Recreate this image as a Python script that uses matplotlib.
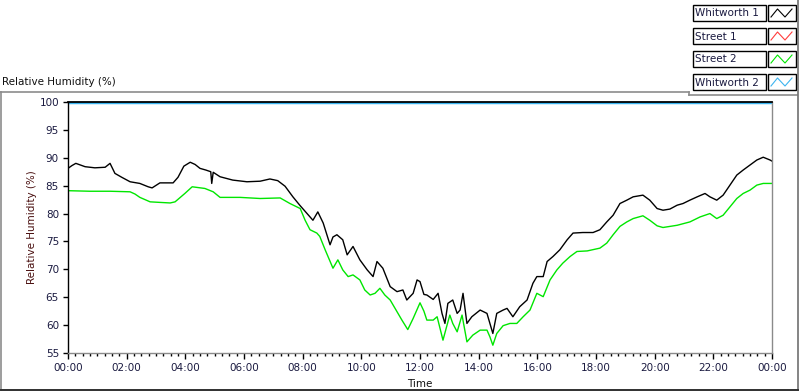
import matplotlib
matplotlib.use("Agg")
import matplotlib.pyplot as plt
from matplotlib.lines import Line2D
from matplotlib.patches import Rectangle
import numpy as np

# ---------------- data (minutes of day, % RH) ----------------
w1_minutes = [0, 8, 16, 35, 55, 76, 86, 96, 110, 127, 147, 164, 172, 188, 215, 225, 237,
              250, 260, 270, 282, 292, 294, 297, 311, 337, 366, 393, 413, 429, 444, 460,
              474, 489, 501, 511, 522, 536, 542, 550, 562, 571, 583, 597, 612, 624, 632,
              644, 659, 673, 685, 693, 706, 714, 720, 728, 734, 747, 757, 765, 771, 777,
              787, 796, 802, 808, 816, 826, 843, 857, 863, 869, 877, 890, 898, 910, 924,
              939, 951, 959, 972, 980, 992, 1006, 1021, 1033, 1053, 1074, 1088, 1102, 1115,
              1129, 1143, 1156, 1176, 1190, 1205, 1217, 1231, 1246, 1258, 1272, 1287, 1303,
              1313, 1327, 1340, 1354, 1368, 1381, 1395, 1409, 1422, 1436, 1440]
w1_values = [88.1, 88.6, 89.0, 88.4, 88.2, 88.3, 89.0, 87.2, 86.5, 85.7, 85.4, 84.8, 84.6,
             85.5, 85.5, 86.5, 88.5, 89.2, 88.8, 88.1, 87.8, 87.5, 85.4, 87.4, 86.6, 86.0,
             85.7, 85.8, 86.2, 85.9, 84.9, 83.0, 81.5, 80.0, 78.8, 80.3, 78.3, 74.4, 75.8,
             76.2, 75.3, 72.6, 74.1, 71.7, 69.9, 68.7, 71.4, 70.2, 66.9, 66.0, 66.3, 64.5,
             65.7, 68.1, 67.8, 65.5, 65.4, 64.6, 65.7, 62.1, 60.3, 63.9, 64.5, 62.1, 62.7,
             65.7, 60.3, 61.5, 62.7, 62.1, 60.3, 58.5, 62.1, 62.7, 63.0, 61.5, 63.3, 64.5,
             67.5, 68.7, 68.7, 71.4, 72.3, 73.5, 75.3, 76.5, 76.6, 76.6, 77.1, 78.5, 79.7,
             81.8, 82.4, 83.0, 83.3, 82.4, 80.9, 80.6, 80.8, 81.5, 81.8, 82.4, 83.0, 83.6,
             83.0, 82.4, 83.3, 85.1, 86.9, 87.8, 88.7, 89.6, 90.1, 89.6, 89.4]

s2_minutes = [0, 45, 86, 127, 137, 147, 168, 188, 209, 219, 239, 254, 280, 297, 311, 352,
              393, 434, 454, 475, 485, 495, 509, 515, 526, 542, 552, 562, 573, 583, 597,
              607, 618, 628, 638, 648, 659, 673, 683, 695, 706, 720, 728, 734, 747, 755,
              767, 775, 781, 787, 796, 806, 816, 828, 843, 857, 863, 869, 877, 890, 904,
              918, 931, 945, 959, 972, 986, 1000, 1012, 1027, 1041, 1062, 1088, 1102, 1115,
              1129, 1143, 1156, 1176, 1190, 1205, 1217, 1246, 1272, 1293, 1313, 1327, 1340,
              1354, 1368, 1381, 1395, 1409, 1422, 1440]
s2_values = [84.1, 84.0, 84.0, 83.9, 83.5, 82.9, 82.1, 82.0, 81.9, 82.1, 83.6, 84.8, 84.5,
             83.9, 82.9, 82.9, 82.7, 82.8, 81.8, 80.9, 78.8, 77.1, 76.5, 75.9, 73.5, 70.2,
             71.7, 69.9, 68.7, 69.0, 68.1, 66.3, 65.4, 65.7, 66.6, 65.4, 64.5, 62.4, 60.9,
             59.2, 61.2, 64.0, 62.5, 60.9, 60.9, 61.5, 57.3, 59.9, 61.8, 60.3, 58.8, 61.8,
             57.0, 58.2, 59.1, 59.1, 57.9, 56.4, 58.5, 59.9, 60.3, 60.3, 61.5, 62.7, 65.7,
             65.1, 68.1, 69.9, 71.1, 72.3, 73.2, 73.3, 73.8, 74.7, 76.2, 77.7, 78.5, 79.1,
             79.6, 78.8, 77.8, 77.5, 77.9, 78.5, 79.4, 80.0, 79.1, 79.7, 81.2, 82.7, 83.6,
             84.2, 85.1, 85.4, 85.4]

w2_minutes = [0, 1440]
w2_values = [100.0, 100.0]

series_names = ["Whitworth 1", "Street 1", "Street 2", "Whitworth 2"]
series_colors = ["#000000", "#ff3c3c", "#00e600", "#3cb4f0"]

x_tick_labels = ["00:00", "02:00", "04:00", "06:00", "08:00", "10:00", "12:00",
                 "14:00", "16:00", "18:00", "20:00", "22:00", "00:00"]
y_ticks = [55, 60, 65, 70, 75, 80, 85, 90, 95, 100]

# ---------------- figure ----------------
W, H = 800, 392
fig = plt.figure(figsize=(W / 100, H / 100), dpi=100)
fig.patch.set_facecolor("white")
FONT = "DejaVu Sans"
TXT = "#1a1a40"


def fx(x):
    return x / W


def fy(y):
    return 1 - y / H


ax = fig.add_axes([fx(68), fy(353), fx(772) - fx(68), fy(102) - fy(353)])
ax.set_xlim(0, 24)
ax.set_ylim(55, 100)

ax.plot(np.array(w2_minutes) / 60, w2_values, color=series_colors[3], lw=3.2, zorder=2,
        solid_capstyle="butt")
ax.plot(np.array(s2_minutes) / 60, s2_values, color=series_colors[2], lw=1.0, zorder=3)
ax.plot(np.array(w1_minutes) / 60, w1_values, color=series_colors[0], lw=1.0, zorder=4)

ax.set_xticks(np.arange(0, 25, 2))
ax.set_xticklabels(x_tick_labels)
ax.set_xticks(np.arange(0, 24.01, 0.25), minor=True)
ax.set_yticks(y_ticks)
ax.set_yticklabels([str(v) for v in y_ticks])
ax.tick_params(axis="x", which="major", direction="out", length=4.5, width=1,
               color="black", pad=3, labelsize=7.5, labelcolor=TXT)
ax.tick_params(axis="x", which="minor", direction="out", length=2.5, width=1,
               color="black")
ax.tick_params(axis="y", which="major", direction="out", length=3.5, width=1,
               color="black", pad=3, labelsize=7.5, labelcolor=TXT)
for lab in ax.get_xticklabels() + ax.get_yticklabels():
    lab.set_family(FONT)

ax.spines["top"].set_color("black")
ax.spines["top"].set_linewidth(1.3)
ax.spines["left"].set_color("black")
ax.spines["left"].set_linewidth(1.0)
ax.spines["bottom"].set_color("#8a8a8a")
ax.spines["bottom"].set_linewidth(1.0)
ax.spines["right"].set_color("#8a8a8a")
ax.spines["right"].set_linewidth(1.0)
for s in ax.spines.values():
    s.set_zorder(6)

fig.text(fx(32), fy(227), "Relative Humidity (%)", rotation=90, ha="center", va="center",
         fontsize=7.5, color="#4a1010", family=FONT)
fig.text(fx(420), fy(384), "Time", ha="center", va="center", fontsize=7.5,
         color="#101010", family=FONT)
fig.text(fx(2), fy(82), "Relative Humidity (%)", ha="left", va="center", fontsize=7.5,
         color="#101010", family=FONT)

# ---------------- frame decorations ----------------
gray = "#8c8c8c"


def hline(y, x0, x1, c=gray, lw=1.2):
    fig.add_artist(Line2D([fx(x0), fx(x1)], [fy(y), fy(y)], color=c, lw=lw))


def vline(x, y0, y1, c=gray, lw=1.2):
    fig.add_artist(Line2D([fx(x), fx(x)], [fy(y0), fy(y1)], color=c, lw=lw))


hline(92, 0, 689)
vline(689, 92, 95)
hline(95, 689, 797)
vline(1, 92, 390)
vline(797.5, 0, 390, c="#707070")
hline(390, 1, 798, c="#303030", lw=1.4)

# ---------------- legend ----------------
rows_top = [5, 28, 51, 74]
for name, col, top in zip(series_names, series_colors, rows_top):
    fig.add_artist(Rectangle((fx(693), fy(top + 16)), fx(766) - fx(693), fy(top) - fy(top + 16),
                             fill=False, ec="black", lw=1.0))
    fig.add_artist(Rectangle((fx(768), fy(top + 16)), fx(796) - fx(768), fy(top) - fy(top + 16),
                             fill=False, ec="black", lw=1.0))
    fig.text(fx(695), fy(top + 8.5), name, ha="left", va="center", fontsize=7.5,
             color=TXT, family=FONT)
    fig.add_artist(Line2D([fx(v) for v in [771, 777.5, 785, 792]],
                          [fy(v) for v in [top + 12, top + 4, top + 12, top + 4]],
                          color=col, lw=0.8))

fig.savefig("out.png", dpi=100, facecolor="white")
